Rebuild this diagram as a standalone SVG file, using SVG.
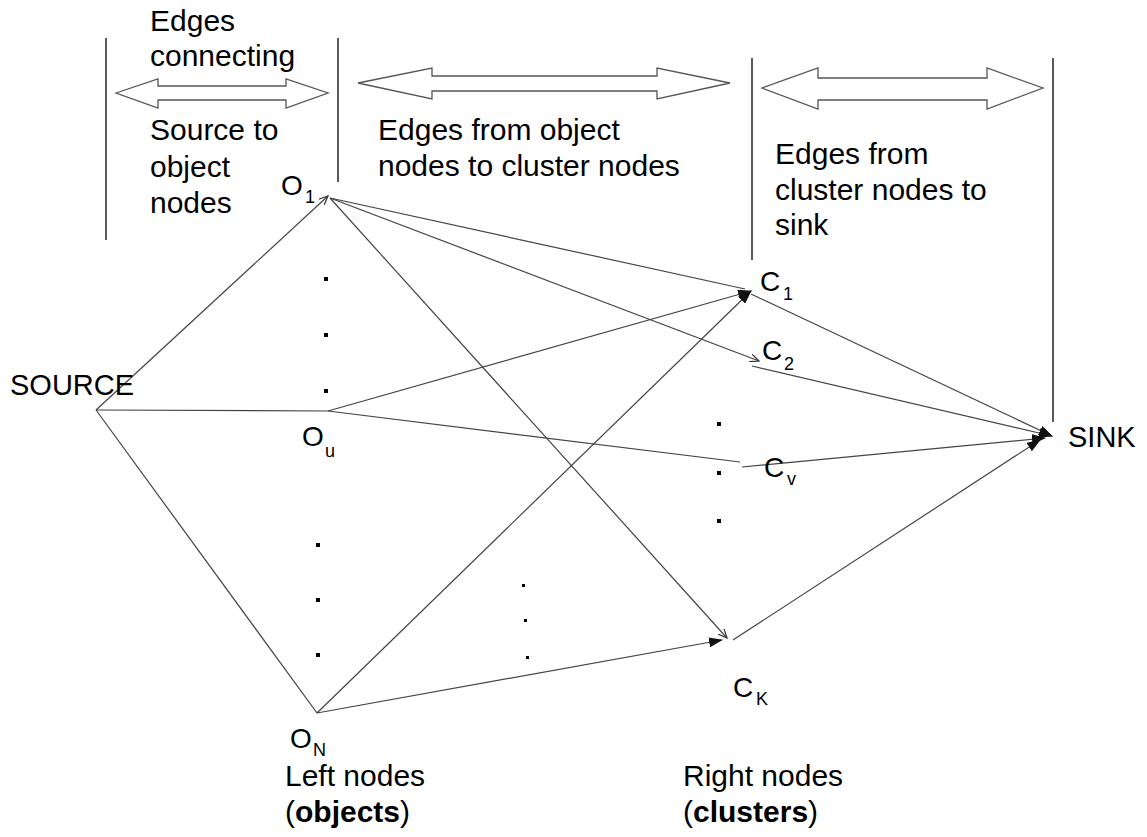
<svg xmlns="http://www.w3.org/2000/svg" width="1147" height="837" viewBox="0 0 1147 837">
<defs>
<style>
.t{font-family:"Liberation Sans",Arial,sans-serif;font-size:30px;fill:#000}
.n{font-family:"Liberation Sans",Arial,sans-serif;font-size:28px;fill:#000}
.s{font-family:"Liberation Sans",Arial,sans-serif;font-size:18px;fill:#000}
.e{stroke:#444;stroke-width:1.2;fill:none}
.v{stroke:#000;stroke-width:1.3}
.ba{fill:#fff;stroke:#555;stroke-width:1.3}
</style>
<marker id="af" markerWidth="14" markerHeight="10" refX="13" refY="5" orient="auto" markerUnits="userSpaceOnUse"><path d="M0,0 L14,5 L0,10 z" fill="#111"/></marker>
<marker id="ao" markerWidth="10" markerHeight="8" refX="9" refY="4" orient="auto" markerUnits="userSpaceOnUse"><path d="M0,0 L9,4 L0,8" fill="none" stroke="#333" stroke-width="1.2"/></marker>
</defs>
<rect width="1147" height="837" fill="#fff"/>
<g id="dividers">
<line class="v" x1="106" y1="38" x2="106" y2="240"/>
<line class="v" x1="338" y1="38" x2="338" y2="182"/>
<line class="v" x1="752" y1="58" x2="752" y2="260"/>
<line class="v" x1="1053" y1="58" x2="1053" y2="422"/>
</g>
<g id="span-arrows">
<polygon class="ba" points="116,93 158,79 158,86 286,86 286,79 328,93 286,108 286,100 158,100 158,108"/>
<polygon class="ba" points="358,83 432,68 432,76 657,76 657,68 730,83 657,99 657,91 432,91 432,99"/>
<polygon class="ba" points="762,88 818,68 818,78 987,78 987,68 1043,88 987,109 987,100 818,100 818,109"/>
</g>
<g id="captions">
<text class="t" x="150" y="31">Edges</text>
<text class="t" x="150" y="66">connecting</text>
<text class="t" x="150" y="140">Source to</text>
<text class="t" x="150" y="177">object</text>
<text class="t" x="150" y="213">nodes</text>
<text class="t" x="378" y="140">Edges from object</text>
<text class="t" x="378" y="176">nodes to cluster nodes</text>
<text class="t" x="775" y="164">Edges from</text>
<text class="t" x="775" y="200">cluster nodes to</text>
<text class="t" x="775" y="235">sink</text>
<text class="t" x="285" y="786">Left nodes</text>
<text class="t" x="285" y="822">(<tspan font-weight="bold">objects</tspan>)</text>
<text class="t" x="683" y="786">Right nodes</text>
<text class="t" x="683" y="822">(<tspan font-weight="bold">clusters</tspan>)</text>
</g>
<g id="connectors">
<line class="e" x1="96" y1="410" x2="328" y2="196" marker-end="url(#ao)"/>
<line class="e" x1="96" y1="410" x2="328" y2="411"/>
<line class="e" x1="96" y1="410" x2="317" y2="713"/>
<line class="e" x1="330" y1="198" x2="745" y2="289"/>
<line class="e" x1="330" y1="198" x2="759" y2="361" marker-end="url(#ao)"/>
<line class="e" x1="330" y1="198" x2="727" y2="638" marker-end="url(#ao)"/>
<line class="e" x1="328" y1="411" x2="751" y2="291" marker-end="url(#af)"/>
<line class="e" x1="328" y1="411" x2="740" y2="462"/>
<line class="e" x1="317" y1="713" x2="751" y2="291" marker-end="url(#af)"/>
<line class="e" x1="317" y1="713" x2="722" y2="640" marker-end="url(#af)"/>
<line class="e" x1="751" y1="294" x2="1052" y2="436" marker-end="url(#af)"/>
<line class="e" x1="752" y1="366" x2="1052" y2="436" marker-end="url(#af)"/>
<line class="e" x1="742" y1="467" x2="1045" y2="438" marker-end="url(#af)"/>
<line class="e" x1="733" y1="640" x2="1040" y2="440" marker-end="url(#af)"/>
</g>
<g id="source"><text class="t" x="10" y="395" style="font-size:29px">SOURCE</text></g>
<g id="o1"><text class="n" x="281" y="195">O</text><text class="s" x="305" y="203">1</text></g>
<g id="dots-left-top"><rect x="324" y="277" width="4" height="4"/><rect x="324" y="333" width="4" height="4"/><rect x="324" y="389" width="4" height="4"/></g>
<g id="ou"><text class="n" x="302" y="446">O</text><text class="s" x="325" y="457">u</text></g>
<g id="dots-left-bottom"><rect x="316" y="543" width="4" height="4"/><rect x="316" y="598" width="4" height="4"/><rect x="316" y="653" width="4" height="4"/></g>
<g id="on"><text class="n" x="290" y="748">O</text><text class="s" x="313" y="756">N</text></g>
<g id="dots-mid"><rect x="522" y="584" width="3" height="3"/><rect x="524" y="619" width="3" height="3"/><rect x="526" y="656" width="3" height="3"/></g>
<g id="c1"><text class="n" x="760" y="291">C</text><text class="s" x="783" y="300">1</text></g>
<g id="c2"><text class="n" x="762" y="360">C</text><text class="s" x="784" y="370">2</text></g>
<g id="dots-right"><rect x="717" y="422" width="4" height="4"/><rect x="717" y="471" width="4" height="4"/><rect x="717" y="519" width="4" height="4"/></g>
<g id="cv"><text class="n" x="764" y="477">C</text><text class="s" x="787" y="485">v</text></g>
<g id="ck"><text class="n" x="733" y="697">C</text><text class="s" x="756" y="705">K</text></g>
<g id="sink"><text class="t" x="1068" y="447" style="font-size:29px">SINK</text></g>
</svg>
